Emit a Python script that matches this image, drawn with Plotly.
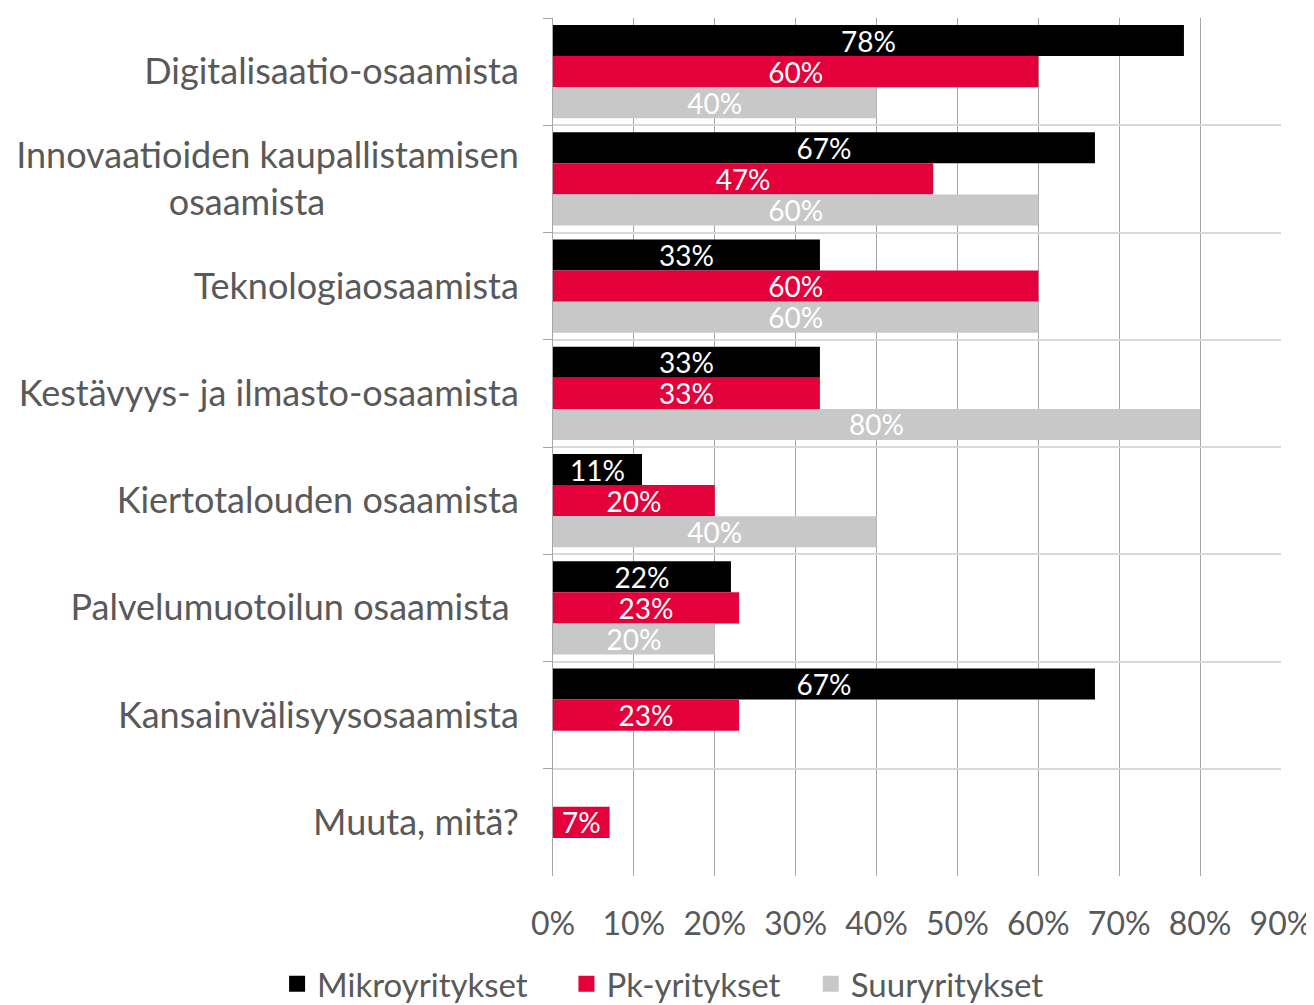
import plotly.graph_objects as go

categories = [
    "Digitalisaatio-osaamista",
    "Innovaatioiden kaupallistamisen<br>osaamista" + "\u00a0" * 21,
    "Teknologiaosaamista",
    "Kestävyys- ja ilmasto-osaamista",
    "Kiertotalouden osaamista",
    "Palvelumuotoilun osaamista ",
    "Kansainvälisyysosaamista",
    "Muuta, mitä?",
]
series_names = ["Mikroyritykset", "Pk-yritykset", "Suuryritykset"]
mikro = [0.78, 0.67, 0.33, 0.33, 0.11, 0.22, 0.67, None]
pk = [0.60, 0.47, 0.60, 0.33, 0.20, 0.23, 0.23, 0.07]
suur = [0.40, 0.60, 0.60, 0.80, 0.40, 0.20, None, None]
colors = ["#000000", "#E4003A", "#C8C8C8"]
x_ticks = [0, 0.1, 0.2, 0.3, 0.4, 0.5, 0.6, 0.7, 0.8, 0.9]

FONT = "Lato"
fig = go.Figure()
for name, vals, col in zip(series_names, [mikro, pk, suur], colors):
    fig.add_trace(go.Bar(
        y=categories, x=vals, name=name, orientation="h",
        marker=dict(color=col, line=dict(width=0)),
        texttemplate="%{x:.0%}", textposition="inside",
        insidetextanchor="middle", constraintext="none",
        textfont=dict(color="white", size=28, family=FONT),
        showlegend=False,
    ))
# legend entries (square swatches)
pads = ["\u00a0" * 4, "\u00a0" * 3, ""]
for name, col, pad in zip(series_names, colors, pads):
    fig.add_trace(go.Scatter(
        x=[None], y=[None], mode="markers",
        name=name + pad,
        marker=dict(symbol="square", size=20, color=col),
    ))

fig.update_layout(
    width=1306, height=997,
    margin=dict(l=545, r=33, t=10, b=129, autoexpand=False),
    paper_bgcolor="white", plot_bgcolor="white",
    barmode="group", bargap=0.13, bargroupgap=0,
    font=dict(family=FONT, color="#595959"),
    legend=dict(orientation="h", x=-0.379, xanchor="left", y=-0.1255, yanchor="middle",
                font=dict(size=33, color="#595959", family=FONT),
                bgcolor="rgba(0,0,0,0)",
                itemwidth=30, tracegroupgap=0),
    showlegend=True,
)
fig.update_xaxes(
    range=[0, 0.9], tickvals=x_ticks, tickformat=".0%",
    showgrid=True, gridcolor="#A6A6A6", gridwidth=1,
    zeroline=False, showline=False, ticks="",
    tickfont=dict(size=32, color="#595959", family=FONT),
    ticklabelstandoff=26, automargin=False,
)
fig.update_yaxes(
    type="category", categoryarray=categories, autorange="reversed",
    tickson="boundaries", ticks="outside", ticklen=9, tickcolor="#A6A6A6",
    showgrid=True, gridcolor="#D9D9D9", gridwidth=2,
    showline=True, linecolor="#A6A6A6", linewidth=1,
    tickfont=dict(size=36, color="#595959", family=FONT),
    ticklabelstandoff=26, automargin=False,
)
fig.write_html("out.html")
